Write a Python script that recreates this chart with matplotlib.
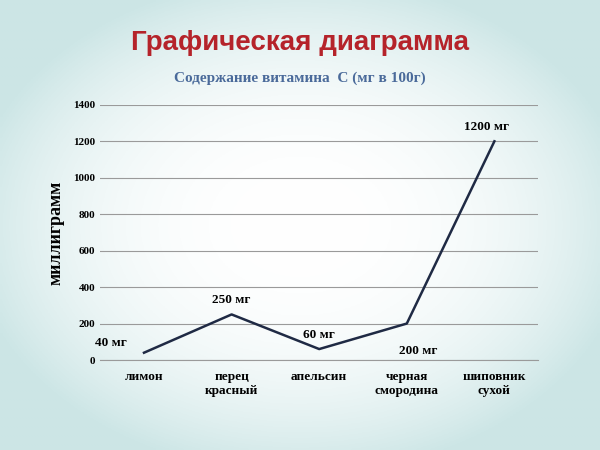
import numpy as np
import matplotlib.pyplot as plt

# Данные
categories = ["лимон", "перец\nкрасный", "апельсин", "черная\nсмородина", "шиповник\nсухой"]
values = [40, 250, 60, 200, 1200]
labels = ["40 мг", "250 мг", "60 мг", "200 мг", "1200 мг"]
offsets = [(-24, 5), (0, 8), (0, 8), (8, -22), (-6, 8)]
y_ticks = [0, 200, 400, 600, 800, 1000, 1200, 1400]

plt.rcParams["font.family"] = "Liberation Serif"

fig = plt.figure(figsize=(6, 4.5), dpi=100)

# Фон с мягким градиентом
bg = fig.add_axes([0, 0, 1, 1], zorder=-1)
yy, xx = np.mgrid[-1:1:200j, -1:1:200j]
r = np.clip(np.sqrt(xx**2 * 0.8 + yy**2 * 0.8), 0, 1)
col0 = np.array([1.0, 1.0, 1.0])
col1 = np.array([0.80, 0.90, 0.90])
img = col0 + (col1 - col0) * (r[..., None] ** 2.5)
bg.imshow(img, aspect="auto", extent=[0, 1, 0, 1])
bg.axis("off")

fig.text(0.5, 0.905, "Графическая диаграмма", ha="center", va="center",
         fontsize=20, fontweight="bold", color="#b5232a", family="Liberation Sans")
fig.text(0.5, 0.827, "Содержание витамина  С (мг в 100г)", ha="center", va="center",
         fontsize=11, fontweight="bold", color="#4a6a9a")

ax = fig.add_axes([0.167, 0.2, 0.73, 0.567])
ax.patch.set_alpha(0)
x = np.arange(len(categories))
ax.plot(x, values, color="#1f2a44", lw=1.8)
for xi, v, lab, off in zip(x, values, labels, offsets):
    ax.annotate(lab, (xi, v), xytext=off, textcoords="offset points",
                ha="center", fontsize=9.5, fontweight="bold")

ax.set_xlim(-0.5, 4.5)
ax.set_ylim(0, 1400)
ax.set_yticks(y_ticks)
ax.set_xticks(x)
ax.set_xticklabels(categories, fontsize=9.5, fontweight="bold")
ax.tick_params(axis="y", labelsize=8, length=0)
for t in ax.get_yticklabels():
    t.set_fontweight("bold")
ax.tick_params(axis="x", length=0, pad=8)
ax.grid(axis="y", color="#9a9a9a", lw=0.8)
ax.set_axisbelow(True)
for s in ["top", "right", "left"]:
    ax.spines[s].set_visible(False)
ax.spines["bottom"].set_color("#9a9a9a")
ax.set_ylabel("миллиграмм", fontsize=13, fontweight="bold", labelpad=6)

plt.savefig("out.png", dpi=100)
